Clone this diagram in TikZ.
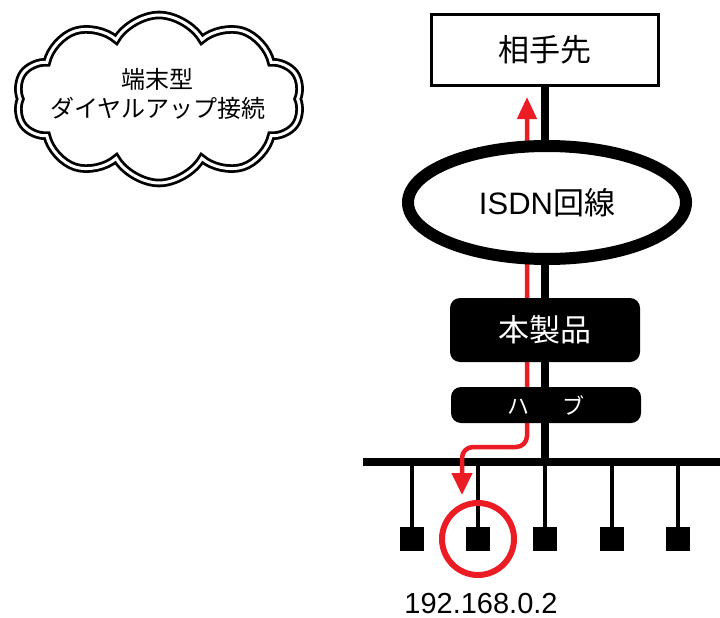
\documentclass[tikz,border=0pt]{standalone}
\usepackage{fontspec}
\setmainfont{Liberation Sans}
\newfontfamily\cjk{Noto Sans CJK JP}
\usetikzlibrary{shapes.symbols,shapes.geometric,arrows.meta}
\definecolor{pathred}{RGB}{236,28,36}
\begin{document}
\begin{tikzpicture}[x=1pt,y=-1pt,
  wbox/.style={draw=black,line width=3pt,fill=white,minimum width=227pt,minimum height=71pt,inner sep=0pt},
  bbox/.style={fill=black,rounded corners=10pt,minimum width=190pt,inner sep=0pt,text=white},
  dev/.style={fill=black,minimum size=24pt,inner sep=0pt},
  drop/.style={line width=4pt},
  redline/.style={draw=pathred,line width=4.5pt}]
\useasboundingbox (0,0) rectangle (720,618);
% main black line and bus
\node[wbox] (aite) at (545,50) {};
\coordinate (busL) at (363,462);
\coordinate (busR) at (720,462);
\coordinate (busM) at (545,462);
\draw[line width=8pt] (aite.south) -- (busM);
\draw[line width=8pt] (busL) -- (busR);
% devices
\foreach \i/\x in {1/412,2/478,3/545,4/612,5/678}{
  \node[dev] (d\i) at (\x,539) {};
  \coordinate (t\i) at (\x,462);
  \draw[drop] (t\i) -- (d\i.north);
}
% red path
\coordinate (rtop) at (527,97);
\coordinate (rc) at (527,447);
\coordinate (rl) at (462,447);
\coordinate (rbot) at (462,495);
\draw[redline,rounded corners=11pt,{Triangle[length=22pt,width=19pt]}-{Triangle[length=22pt,width=20pt]}] (rtop) -- (rc) -- (rl) -- (rbot);
% ellipse
\node[ellipse,draw=black,fill=white,line width=12pt,minimum width=278pt,minimum height=113pt,inner sep=0pt] (isdn) at (547,202.5) {};
\node at (isdn.center) {\fontsize{31}{36}\selectfont ISDN{\cjk 回線}};
% boxes
\node[wbox] at (aite.center) {\cjk\fontsize{31}{34}\selectfont 相手先};
\node[bbox,minimum height=64pt] (hon) at (545,330) {\cjk\fontsize{31}{34}\selectfont 本製品};
\node[bbox,minimum height=36pt] (hub) at (546,405) {\cjk\fontsize{22}{26}\selectfont ハ\hspace{1.5em}ブ};
% red circle
\node[circle,draw=pathred,line width=6pt,minimum size=72pt,inner sep=0pt] (sel) at (d2.center) {};
\node[anchor=base] (ip) at (481,613) {\fontsize{29}{34}\selectfont 192.168.0.2};
% cloud
\node[cloud,cloud puffs=10,cloud puff arc=120,draw=black,double=white,double distance=3pt,line width=2.8pt,minimum width=286pt,minimum height=168pt,inner sep=0pt] (cl) at (159,99) {};
\node[align=center,font=\cjk\fontsize{24}{29}\selectfont] (cltext) at (158,94) {端末型\\ダイヤルアップ接続};
\end{tikzpicture}
\end{document}
